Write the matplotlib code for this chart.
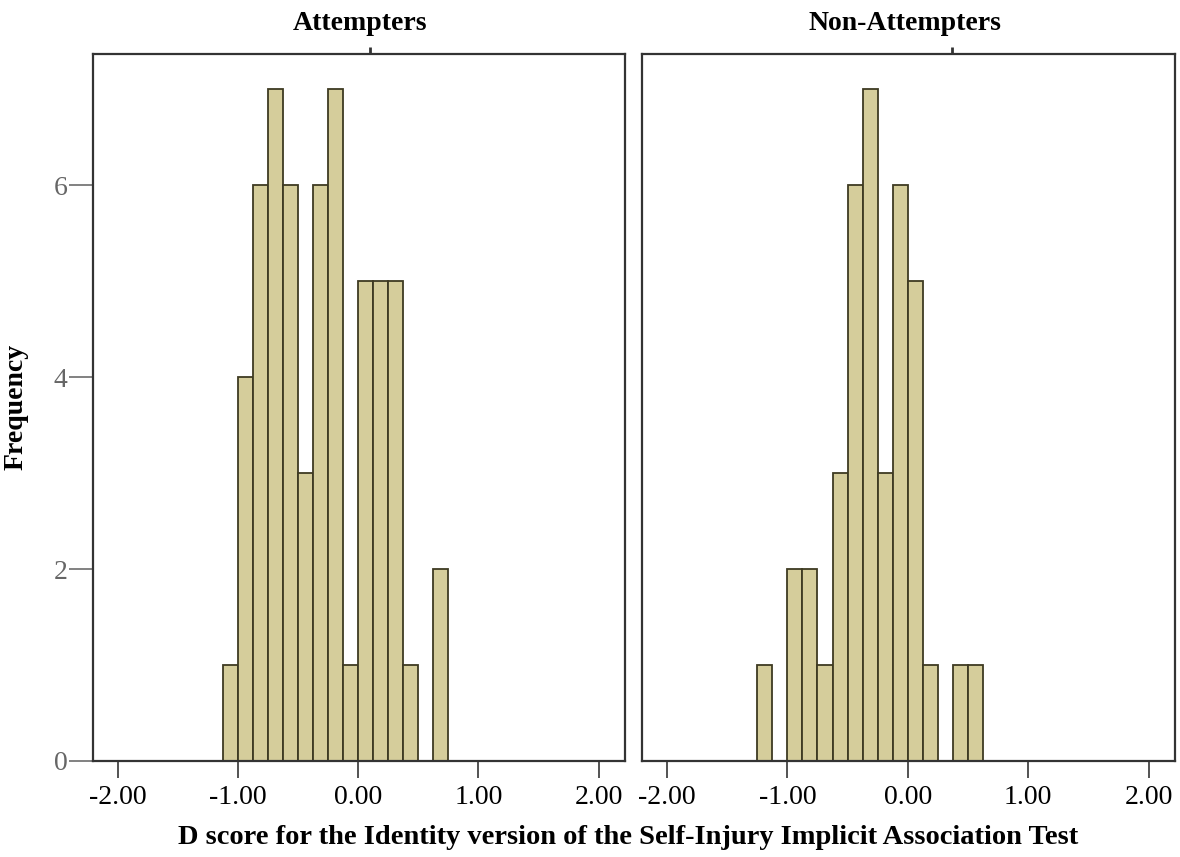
import numpy as np
import matplotlib
matplotlib.use("Agg")
import matplotlib.pyplot as plt

# ---- data ----
panel_titles = ["Attempters", "Non-Attempters"]
bin_width = 0.125
attempters_start = -1.125
attempters_counts = [1, 4, 6, 7, 6, 3, 6, 7, 1, 5, 5, 5, 1, 0, 2]
non_attempters_start = -1.25
non_attempters_counts = [1, 0, 2, 2, 1, 3, 6, 7, 3, 6, 5, 1, 0, 1, 1]
x_ticks = [-2.0, -1.0, 0.0, 1.0, 2.0]
x_tick_labels = ["-2.00", "-1.00", "0.00", "1.00", "2.00"]
y_ticks = [0, 2, 4, 6]
x_label = "D score for the Identity version of the Self-Injury Implicit Association Test"
y_label = "Frequency"

serif = ["Liberation Serif", "DejaVu Serif"]
plt.rcParams["font.family"] = serif

fig = plt.figure(figsize=(11.8, 8.57), dpi=100)
W, H = 1180, 857
ax1 = fig.add_axes([92.7 / W, (H - 761) / H, (625 - 92.7) / W, (761 - 54) / H])
ax2 = fig.add_axes([641.7 / W, (H - 761) / H, (1175 - 641.7) / W, (761 - 54) / H])

fill = "#d5cd9b"
edge = "#3e3a22"
spine_c = "#333333"

for ax, start, counts, title, top_mark in [
    (ax1, attempters_start, attempters_counts, panel_titles[0], 0.10),
    (ax2, non_attempters_start, non_attempters_counts, panel_titles[1], 0.37),
]:
    lefts = start + bin_width * np.arange(len(counts))
    counts = np.asarray(counts)
    nz = counts > 0
    ax.bar(lefts[nz], counts[nz], width=bin_width, align="edge",
           color=fill, edgecolor=edge, linewidth=1.3, zorder=2)
    ax.set_xlim(-2.21, 2.22)
    ax.set_ylim(0, 7.37)
    ax.set_xticks(x_ticks)
    ax.set_xticklabels(x_tick_labels, fontsize=20)
    ax.tick_params(axis="x", direction="out", length=12, width=1.3,
                   color="#444444", pad=5, labelcolor="black")
    for s in ax.spines.values():
        s.set_color(spine_c)
        s.set_linewidth(1.6)
        s.set_zorder(3)
    # small mark on top spine
    sec = ax.secondary_xaxis("top")
    sec.set_xticks([top_mark])
    sec.set_xticklabels([""])
    sec.tick_params(direction="out", length=5, width=2, color="#333333")
    sec.spines["top"].set_visible(False)

ax1.set_yticks(y_ticks)
ax1.set_yticklabels([str(v) for v in y_ticks], fontsize=20, color="#666666")
ax1.tick_params(axis="y", direction="out", length=17, width=1.3,
                color="#777777", pad=1)
ax2.set_yticks([])

fig.text(360 / W, 1 - 23 / H, panel_titles[0], ha="center", va="center",
         fontsize=20, fontweight="bold")
fig.text(905 / W, 1 - 23 / H, panel_titles[1], ha="center", va="center",
         fontsize=20, fontweight="bold")
fig.text(16 / W, 1 - 407 / H, y_label, rotation=90, ha="center", va="center",
         fontsize=20, fontweight="bold")
fig.text(628 / W, 1 - 838 / H, x_label, ha="center", va="center",
         fontsize=20.5, fontweight="bold")

fig.savefig("out.png", dpi=100)
